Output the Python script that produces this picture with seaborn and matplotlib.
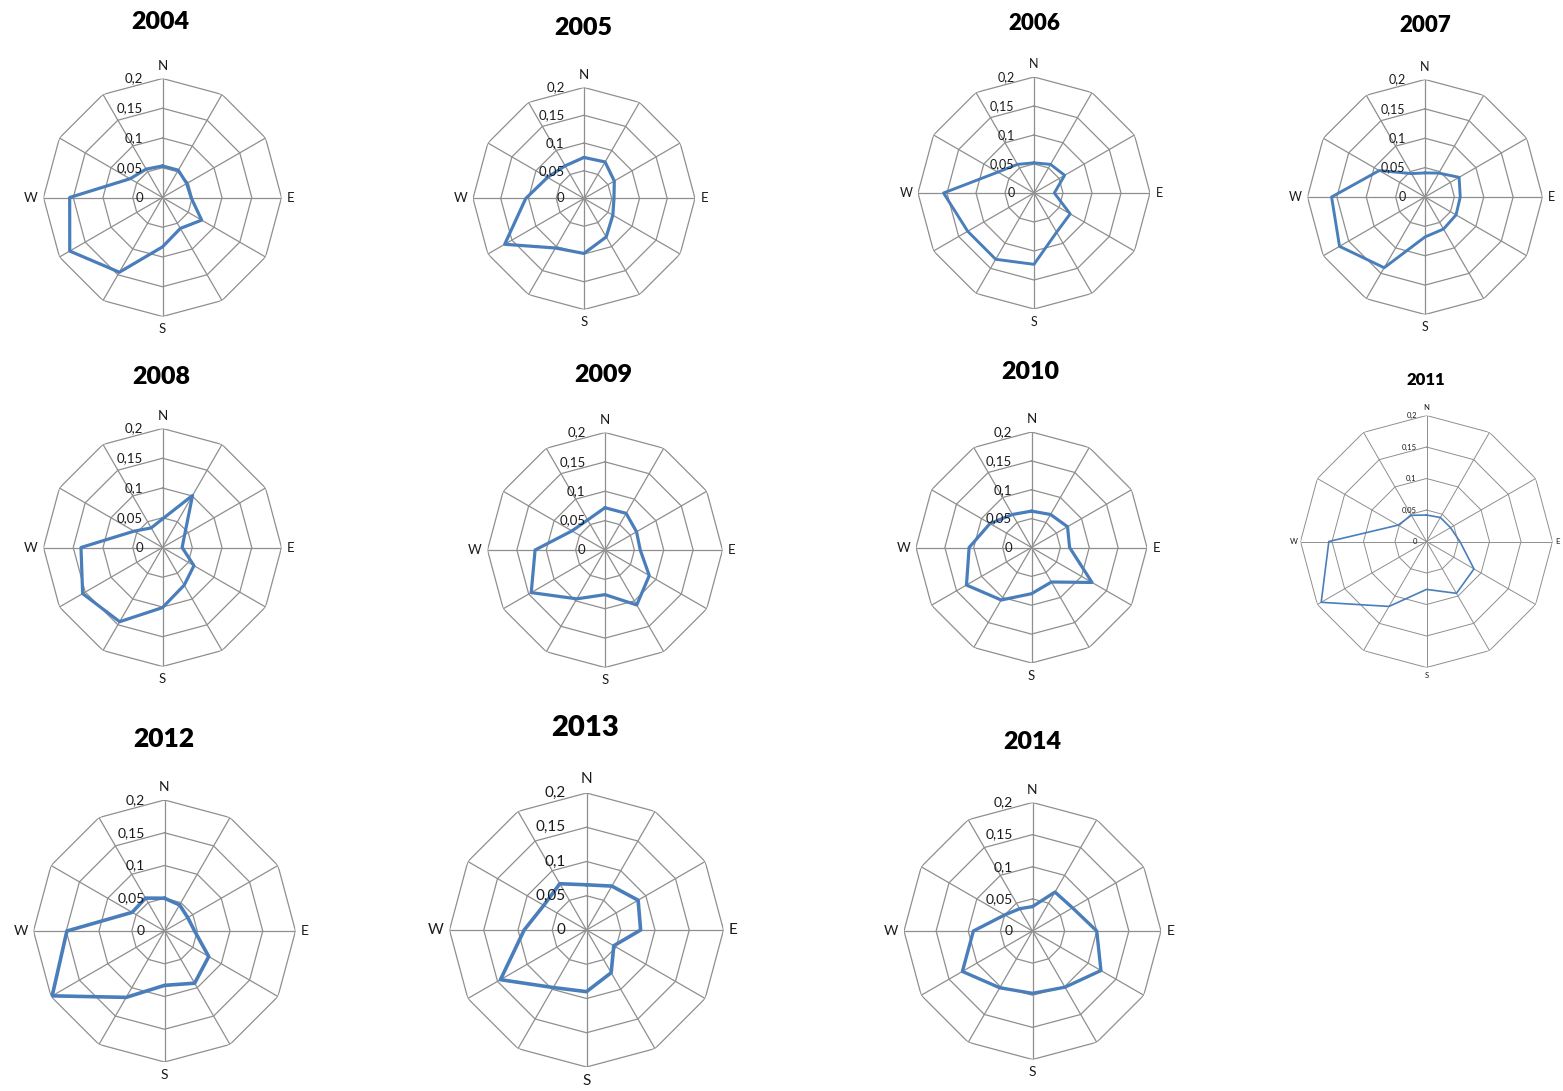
import numpy as np
import matplotlib
matplotlib.use("Agg")
import matplotlib.pyplot as plt
import seaborn as sns

# ---------------- data ----------------
directions = ["N", "NNE", "ENE", "E", "ESE", "SSE", "S", "SSW", "WSW", "W", "WNW", "NNW"]
shown_dirs = ["N", "E", "S", "W"]
radial_ticks = [0, 0.05, 0.1, 0.15, 0.2]
radial_labels = ["0", "0,05", "0,1", "0,15", "0,2"]
years = ["2004", "2005", "2006", "2007", "2008", "2009", "2010", "2011", "2012", "2013", "2014"]

v2004 = [0.053, 0.053, 0.047, 0.048, 0.076, 0.060, 0.083, 0.145, 0.180, 0.156, 0.063, 0.055]
v2005 = [0.074, 0.076, 0.063, 0.054, 0.060, 0.080, 0.099, 0.103, 0.165, 0.105, 0.076, 0.068]
v2006 = [0.052, 0.057, 0.061, 0.035, 0.072, 0.078, 0.123, 0.132, 0.132, 0.156, 0.072, 0.057]
v2007 = [0.041, 0.047, 0.067, 0.060, 0.061, 0.063, 0.068, 0.139, 0.168, 0.159, 0.090, 0.046]
v2008 = [0.048, 0.101, 0.043, 0.033, 0.061, 0.073, 0.101, 0.144, 0.155, 0.137, 0.055, 0.038]
v2009 = [0.072, 0.072, 0.062, 0.060, 0.087, 0.108, 0.076, 0.096, 0.145, 0.119, 0.065, 0.059]
v2010 = [0.063, 0.066, 0.072, 0.066, 0.121, 0.069, 0.080, 0.105, 0.130, 0.108, 0.083, 0.066]
v2011 = [0.042, 0.044, 0.044, 0.053, 0.087, 0.095, 0.076, 0.119, 0.193, 0.155, 0.052, 0.048]
v2012 = [0.050, 0.046, 0.041, 0.046, 0.078, 0.092, 0.083, 0.117, 0.198, 0.149, 0.057, 0.058]
v2013 = [0.066, 0.074, 0.087, 0.079, 0.046, 0.072, 0.090, 0.097, 0.145, 0.091, 0.072, 0.078]
v2014 = [0.038, 0.070, 0.072, 0.100, 0.123, 0.101, 0.097, 0.102, 0.126, 0.092, 0.050, 0.040]

values = {"2004": v2004, "2005": v2005, "2006": v2006, "2007": v2007,
          "2008": v2008, "2009": v2009, "2010": v2010, "2011": v2011,
          "2012": v2012, "2013": v2013, "2014": v2014}

# ---------------- layout (pixels) ----------------
W_PX, H_PX = 1563, 1091
# year: (cx, cy, R, title_x, title_y, title_fs, label_fs, line_w, tick_off)
layout = {
    "2004": (162.5, 197.5, 119, 160, 22, 18, 9.5, 2.3, 14),
    "2005": (584, 198.5, 111, 583, 28, 18, 9.5, 2.3, 14),
    "2006": (1034, 193, 116, 1034, 24, 16, 9.0, 2.1, 14),
    "2007": (1425, 197, 117.5, 1425, 26, 16, 9.0, 2.1, 14),
    "2008": (162.5, 547.5, 119, 161, 377, 18, 9.5, 2.3, 14),
    "2009": (605, 550, 117.5, 603, 375, 18, 9.5, 2.3, 14),
    "2010": (1031.5, 547.5, 115.5, 1030, 372, 18, 9.5, 2.3, 14),
    "2011": (1426.5, 541.5, 126, 1426, 380, 12, 5.5, 1.2, 7),
    "2012": (164.5, 931, 131, 164, 739, 19, 10.0, 2.6, 14),
    "2013": (586.5, 930, 137, 585, 728, 21, 11.0, 2.6, 15),
    "2014": (1032.5, 931, 128.5, 1032, 742, 18, 10.0, 2.4, 14),
}

sns.set_theme(style="white")
plt.rcParams["font.family"] = ["Lato", "DejaVu Sans"]

fig = plt.figure(figsize=(W_PX / 100, H_PX / 100), dpi=100)
fig.patch.set_facecolor("white")

n = len(directions)
theta = np.arange(n) * 2 * np.pi / n
theta_closed = np.append(theta, 2 * np.pi)
grid_col = "#8f8f8f"
line_col = "#4a7ebb"

for yr in years:
    cx, cy, R, tx, ty, tfs, lfs, lw, toff = layout[yr]
    rect = [(cx - R) / W_PX, 1 - (cy + R) / H_PX, 2 * R / W_PX, 2 * R / H_PX]
    ax = fig.add_axes(rect, projection="polar")
    ax.set_theta_zero_location("N")
    ax.set_theta_direction(-1)
    ax.set_facecolor("none")

    # polygon grid
    gw = 0.9 if yr != "2011" else 0.7
    for r in radial_ticks[1:]:
        ax.plot(theta_closed, [r] * (n + 1), color=grid_col, lw=gw, zorder=1)
    for t in theta:
        ax.plot([t, t], [0, radial_ticks[-1]], color=grid_col, lw=gw, zorder=1)

    vals = values[yr]
    sns.lineplot(x=theta_closed, y=vals + [vals[0]], sort=False, estimator=None,
                 ax=ax, color=line_col, lw=lw, zorder=3)

    ax.set_xlim(0, 2 * np.pi)
    ax.set_ylim(0, radial_ticks[-1])
    ax.set_xticks([])
    ax.set_yticks([])
    ax.grid(False)
    ax.spines["polar"].set_visible(False)
    ax.set_xlabel("")
    ax.set_ylabel("")

    # radial labels
    for r, lab in zip(radial_ticks, radial_labels):
        ax.annotate(lab, xy=(0, r), xytext=(-toff, 0), textcoords="offset points",
                    ha="right", va="center", fontsize=lfs, color="#1a1a1a",
                    annotation_clip=False)

    # compass labels
    rmax = radial_ticks[-1]
    d = 5 if yr != "2011" else 3
    offs = {"N": ((0, d), "center", "bottom"), "E": ((d - 1, 0), "left", "center"),
            "S": ((0, -d), "center", "top"), "W": ((-d + 1, 0), "right", "center")}
    for lab in shown_dirs:
        i = directions.index(lab)
        (ox, oy), ha, va = offs[lab]
        ax.annotate(lab, xy=(theta[i], rmax), xytext=(ox, oy), textcoords="offset points",
                    ha=ha, va=va, fontsize=lfs, color="#1a1a1a", annotation_clip=False)

    fig.text(tx / W_PX, 1 - ty / H_PX, yr, ha="center", va="center",
             fontsize=tfs, fontweight="heavy", color="black")

fig.savefig("out.png", dpi=100, facecolor="white")
